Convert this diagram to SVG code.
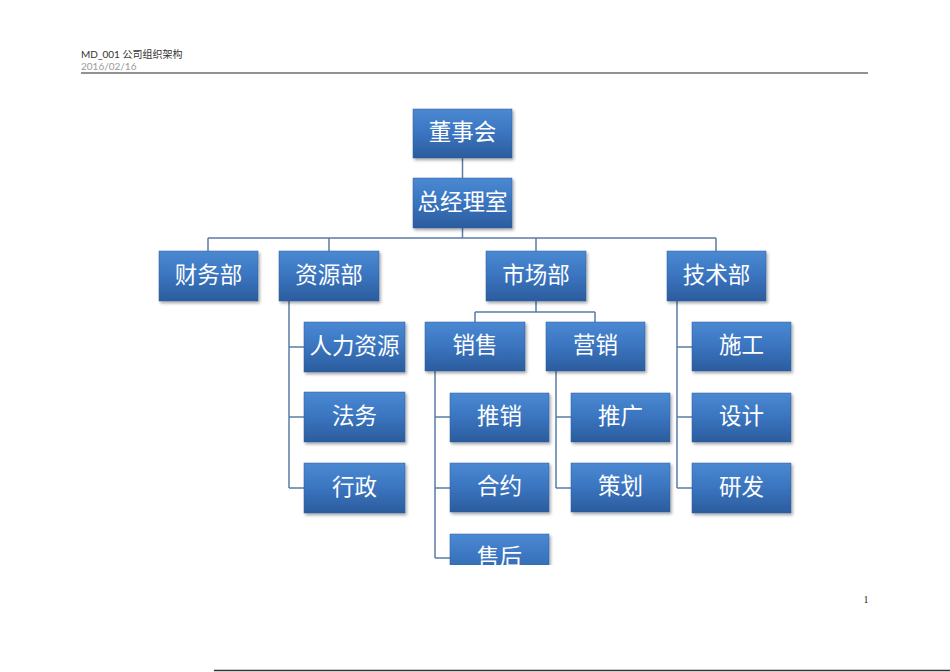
<svg xmlns="http://www.w3.org/2000/svg" width="950" height="672" viewBox="0 0 950 672">
<defs>
<linearGradient id="bg" x1="0" y1="0" x2="0" y2="1">
<stop offset="0" stop-color="#4b89d3"/>
<stop offset="0.5" stop-color="#3a74bf"/>
<stop offset="1" stop-color="#2b5c9d"/>
</linearGradient>
<filter id="sh" x="-10%" y="-10%" width="125%" height="130%">
<feDropShadow dx="1.5" dy="2" stdDeviation="1.5" flood-color="#000" flood-opacity="0.35"/>
</filter>
<clipPath id="clip"><rect x="0" y="0" width="950" height="565"/></clipPath>
</defs>
<style>
.box{fill:url(#bg);stroke:#2c5d9e;stroke-width:0.5;filter:url(#sh)}
.lbl{font-family:"Noto Sans CJK SC","Noto Sans",sans-serif;font-size:22.5px;fill:#ffffff;text-anchor:middle}
.con{fill:none;stroke:#5a7ca6;stroke-width:1.5}
.hd{font-family:Lato,"Noto Sans CJK SC",sans-serif}
</style>
<rect width="950" height="672" fill="#ffffff"/>
<g id="header">
<text class="hd" x="81" y="58" font-size="10" fill="#333333">MD_001 公司组织架构</text>
<text class="hd" x="81" y="70" font-size="10" fill="#9a9a9a">2016/02/16</text>
<line x1="81" y1="73" x2="868" y2="73" stroke="#6e6e6e" stroke-width="1.5"/>
</g>
<g clip-path="url(#clip)">
<g id="connectors">
<path class="con" d="M462.5 158V178M462.5 228V238M208 238H716M208 238V251M329 238V251M536 238V251M716 238V251"/>
<path class="con" d="M289 301V488M289 347H304M289 417H304M289 488H304"/>
<path class="con" d="M536 301V312M475 312H595M475 312V322M595 312V322"/>
<path class="con" d="M435 371V558M435 417H450M435 488H450M435 558H450"/>
<path class="con" d="M556 371V488M556 417H571M556 488H571"/>
<path class="con" d="M677 301V488M677 347H692M677 417H692M677 488H692"/>
</g>
<g id="n-dongshihui"><rect class="box" x="413" y="109" width="99" height="49"/><text class="lbl" x="462.5" y="139.5">董事会</text></g>
<g id="n-zongjingli"><rect class="box" x="413" y="178" width="99" height="50"/><text class="lbl" x="462.5" y="209.5">总经理室</text></g>
<g id="n-caiwu"><rect class="box" x="159" y="251" width="99" height="50"/><text class="lbl" x="208.5" y="282.5">财务部</text></g>
<g id="n-ziyuan"><rect class="box" x="279" y="251" width="100" height="50"/><text class="lbl" x="329" y="282.5">资源部</text></g>
<g id="n-shichang"><rect class="box" x="486" y="251" width="100" height="50"/><text class="lbl" x="536" y="282.5">市场部</text></g>
<g id="n-jishu"><rect class="box" x="667" y="251" width="99" height="50"/><text class="lbl" x="716.5" y="282.5">技术部</text></g>
<g id="n-renli"><rect class="box" x="304" y="322" width="101" height="50"/><text class="lbl" x="354.5" y="353.5">人力资源</text></g>
<g id="n-fawu"><rect class="box" x="304" y="392" width="101" height="50"/><text class="lbl" x="354.5" y="423.5">法务</text></g>
<g id="n-xingzheng"><rect class="box" x="304" y="463" width="101" height="50"/><text class="lbl" x="354.5" y="494.5">行政</text></g>
<g id="n-xiaoshou"><rect class="box" x="425" y="322" width="100" height="49"/><text class="lbl" x="475" y="352.5">销售</text></g>
<g id="n-yingxiao"><rect class="box" x="546" y="322" width="99" height="49"/><text class="lbl" x="595.5" y="352.5">营销</text></g>
<g id="n-tuixiao"><rect class="box" x="450" y="393" width="99" height="49"/><text class="lbl" x="499.5" y="423.5">推销</text></g>
<g id="n-heyue"><rect class="box" x="450" y="463" width="99" height="49"/><text class="lbl" x="499.5" y="493.5">合约</text></g>
<g id="n-shouhou"><rect class="box" x="450" y="534" width="99" height="49"/><text class="lbl" x="499.5" y="564.5">售后</text></g>
<g id="n-tuiguang"><rect class="box" x="571" y="393" width="99" height="49"/><text class="lbl" x="620.5" y="423.5">推广</text></g>
<g id="n-cehua"><rect class="box" x="571" y="463" width="99" height="49"/><text class="lbl" x="620.5" y="493.5">策划</text></g>
<g id="n-shigong"><rect class="box" x="692" y="322" width="99" height="49"/><text class="lbl" x="741.5" y="352.5">施工</text></g>
<g id="n-sheji"><rect class="box" x="692" y="393" width="99" height="49"/><text class="lbl" x="741.5" y="423.5">设计</text></g>
<g id="n-yanfa"><rect class="box" x="692" y="463" width="99" height="50"/><text class="lbl" x="741.5" y="494.5">研发</text></g>
</g>
<g id="footer">
<text x="866" y="603" font-family="Liberation Serif,serif" font-size="10" fill="#222222" text-anchor="middle">1</text>
<line x1="214" y1="670.5" x2="950" y2="670.5" stroke="#333333" stroke-width="1.5"/>
</g>
</svg>
